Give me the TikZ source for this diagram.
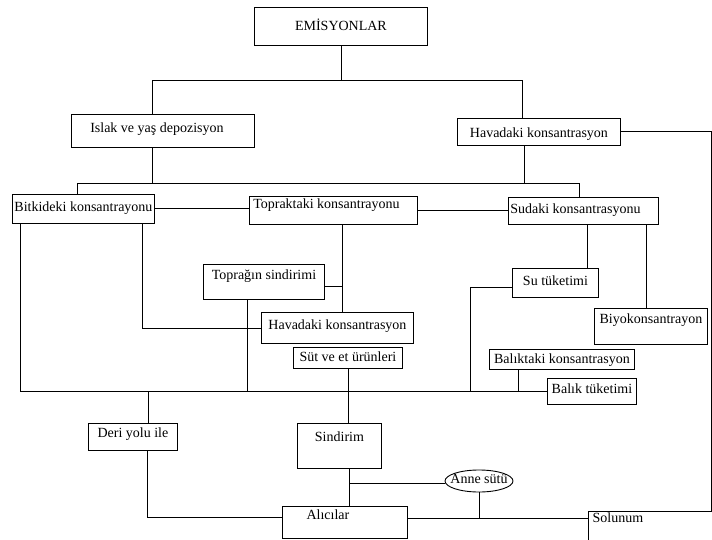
\documentclass[tikz,border=0pt]{standalone}
\usepackage{fontspec}
\setmainfont{Liberation Serif}
\usetikzlibrary{shapes.geometric}

\begin{document}
\begin{tikzpicture}[x=1pt,y=-1pt,
   line width=0.9pt,
   kutu/.style={draw,rectangle,anchor=north west,inner xsep=1pt,inner ysep=0pt,
      font=\fontsize{14}{16}\selectfont},
   oval/.style={draw,ellipse,inner sep=0pt,minimum width=68pt,minimum height=22pt,
      text height=4pt,text depth=0pt,font=\fontsize{14}{16}\selectfont}]
\clip (0,0) rectangle (712,540);

\node[kutu,minimum width=173pt,text height=23pt,text depth=15pt] (emis) at (254,7) {EMİSYONLAR};
\node[kutu,minimum width=183pt,text height=18pt,text depth=15pt] (islak) at (71,114) {Islak ve yaş depozisyon\hspace*{12pt}};
\node[kutu,minimum width=163pt,text height=19pt,text depth=8pt] (havaU) at (457,118) {Havadaki konsantrasyon};
\node[kutu,minimum width=142pt,text height=17pt,text depth=12pt] (bitki) at (12,194) {Bitkideki konsantrayonu};
\node[kutu,minimum width=168pt,text height=12pt,text depth=16pt] (toprak) at (249,196) {Topraktaki konsantrayonu\hspace*{14pt}};
\node[kutu,minimum width=150pt,text height=16pt,text depth=11pt] (su) at (508,197) {Sudaki konsantrasyonu\hspace*{16pt}};
\node[kutu,minimum width=121pt,text height=15pt,text depth=20pt] (sindT) at (203,264) {Toprağın sindirimi};
\node[kutu,minimum width=152pt,text height=17pt,text depth=14pt] (havaM) at (261,312) {Havadaki konsantrasyon};
\node[kutu,minimum width=86pt,text height=17pt,text depth=12pt] (suTuk) at (512,268) {Su tüketimi};
\node[kutu,minimum width=113pt,text height=15pt,text depth=21pt] (biyo) at (594,308) {Biyokonsantrayon};
\node[kutu,minimum width=109pt,text height=14pt,text depth=7pt] (sut) at (293,347) {Süt ve et ürünleri};
\node[kutu,minimum width=145pt,text height=14pt,text depth=6pt] (baliktaki) at (489,349) {Balıktaki konsantrasyon};
\node[kutu,minimum width=89pt,text height=15pt,text depth=11pt] (balikTuk) at (547,378) {Balık tüketimi};
\node[kutu,minimum width=89pt,text height=14pt,text depth=13pt] (deri) at (88,423) {Deri yolu ile};
\node[kutu,minimum width=84pt,text height=18pt,text depth=27pt] (sindirim) at (297,423) {Sindirim};
\node[kutu,minimum width=125pt,text height=13pt,text depth=19pt] (alici) at (282,506) {Alıcılar\hspace*{34pt}};
\node[kutu,minimum width=140pt,text height=11pt,text depth=40pt] (solunum) at (588,511) {Solunum\hspace*{81pt}};
\node[oval] (anne) at (479,481) {\makebox[0pt]{Anne sütü}};

\coordinate (a1) at (152,80);
\coordinate (a2) at (522,80);
\coordinate (b1) at (77,183);
\coordinate (b2) at (152,183);
\coordinate (b3) at (524,183);
\coordinate (b4) at (579,183);
\coordinate (t1) at (342,286);
\coordinate (k1) at (142,327);
\coordinate (g0) at (20,391);
\coordinate (g1) at (148,391);
\coordinate (g2) at (247,391);
\coordinate (g3) at (348,391);
\coordinate (g4) at (470,391);
\coordinate (g5) at (518,391);
\coordinate (s4) at (470,287);
\coordinate (u1) at (587,250);
\coordinate (u2) at (646,250);
\coordinate (h1) at (147,517);
\coordinate (m1) at (349,483);
\coordinate (n1) at (480,518);
\coordinate (r1) at (711,511);

\draw (emis.south) -- (emis.south |- a1);
\draw (islak.north -| a1) -- (a1) -- (a2) -- (havaU.north -| a2);
\draw (islak.south -| b2) -- (b2);
\draw (havaU.south -| b3) -- (b3);
\draw (bitki.north -| b1) -- (b1) -- (b4) -- (su.north -| b4);
\draw (bitki.east) -- (bitki.east -| toprak.west);
\draw (toprak.east) -- (toprak.east -| su.west);
\draw (toprak.south -| t1) -- (havaM.north -| t1);
\draw (sindT.east |- t1) -- (t1);
\draw (bitki.south -| k1) |- (havaM.west);
\draw (bitki.south -| g0) |- (balikTuk.west);
\draw (sindT.south -| g2) -- (g2);
\draw (sut.south -| g3) -- (sindirim.north -| g3);
\draw (suTuk.west |- s4) -- (s4) -- (g4);
\draw (baliktaki.south -| g5) -- (g5);
\draw (su.south -| u1) -- (suTuk.north -| u1);
\draw (su.south -| u2) -- (biyo.north -| u2);
\draw (havaU.east) -| (r1) -- (solunum.north west);
\draw (g1) -- (deri.north -| g1);
\draw (deri.south -| h1) -- (h1) -- (alici.west |- h1);
\draw (sindirim.south -| m1) -- (alici.north -| m1);
\draw (m1) -- (m1 -| anne.west);
\draw (anne.south) -- (anne.south |- n1);
\draw (alici.east |- n1) -- (solunum.west |- n1);
\end{tikzpicture}
\end{document}
